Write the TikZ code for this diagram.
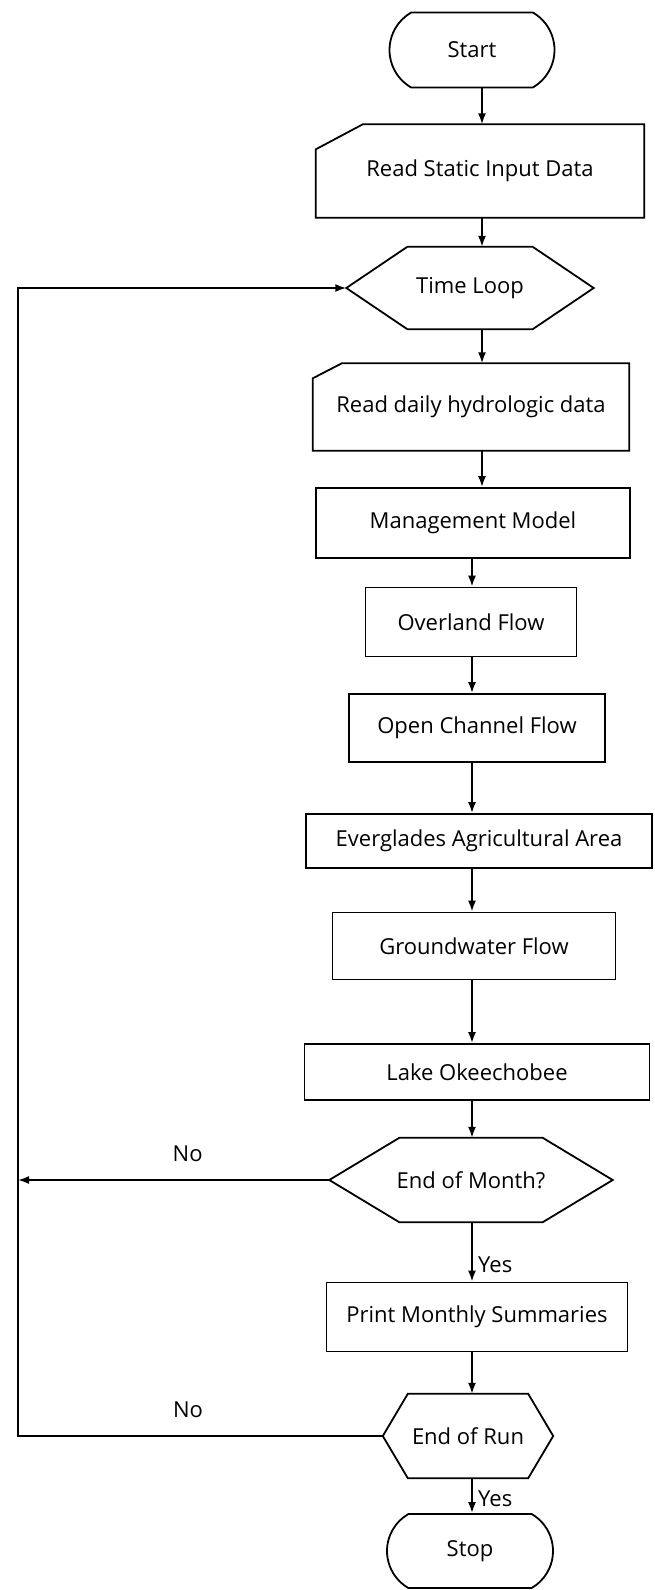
\documentclass[tikz,border=0pt]{standalone}
\usepackage{fontspec}
\setmainfont{Open Sans}
\usetikzlibrary{arrows.meta,positioning,shapes.misc,calc}

\newcommand{\flowfont}{\fontsize{22}{26}\selectfont}

\tikzset{
  block/.style={draw, rectangle, line width=1.8pt, inner sep=0pt},
  bare/.style={rectangle, inner sep=0pt},
  term/.style={draw, rounded rectangle, rounded rectangle arc length=120,
    line width=1.8pt, inner sep=0pt},
  flow/.style={-{Latex[length=11pt,width=8pt]}, line width=1.8pt},
  outline/.style={line width=1.8pt, line join=miter},
}

\begin{document}
\begin{tikzpicture}[x=1pt, y=-1pt, every node/.style={font=\flowfont}]
    \useasboundingbox (0,0) rectangle (654,1590);

    % main column, top to bottom
    \node[term, minimum width=165pt, minimum height=75pt] (start) at (472,50) {Start};
    \node[bare, minimum width=328pt, minimum height=93pt] (static) at (480,171) {Read Static Input Data};
    \node[bare, minimum width=247pt, minimum height=82pt] (loop) at (470,288) {Time Loop};
    \node[bare, minimum width=316pt, minimum height=87pt] (daily) at (471,407) {Read daily hydrologic data};
    \node[block, minimum width=314pt, minimum height=70pt] (mgmt) at (473,523) {Management Model};
    \node[block, minimum width=211pt, minimum height=69pt] (overland) at (471,622) {Overland Flow};
    \node[block, minimum width=256pt, minimum height=68pt] (channel) at (477,728) {Open Channel Flow};
    \node[block, minimum width=346pt, minimum height=54pt] (eaa) at (479,841) {Everglades Agricultural Area};
    \node[block, minimum width=283pt, minimum height=67pt] (ground) at (474,946) {Groundwater Flow};
    \node[block, minimum width=345pt, minimum height=56pt] (lake) at (477,1072) {Lake Okeechobee};
    \node[bare, minimum width=283pt, minimum height=84pt] (month) at (471,1180) {End of Month?};
    \node[block, minimum width=301pt, minimum height=69pt] (print) at (477,1317) {Print Monthly Summaries};
    \node[bare, minimum width=170pt, minimum height=84pt] (run) at (468,1436) {End of Run};
    \node[term, minimum width=166pt, minimum height=74pt] (stop) at (470,1551) {Stop};

    % input cards (cut corner top left)
    \foreach \n/\a/\b in {static/47/25, daily/29/15}
      \draw[outline] ($(\n.north west)+(0,\b)$) -- ($(\n.north west)+(\a,0)$)
        -- (\n.north east) -- (\n.south east) -- (\n.south west) -- cycle;

    % decision hexagons
    \foreach \n/\e in {loop/61, month/70, run/25}
      \draw[outline] (\n.west) -- ($(\n.north west)+(\e,0)$) -- ($(\n.north east)+(-\e,0)$)
        -- (\n.east) -- ($(\n.south east)+(-\e,0)$) -- ($(\n.south west)+(\e,0)$) -- cycle;

    % arrows down the column
    \coordinate (up) at (482,0);
    \coordinate (lo) at (472,0);
    \coordinate (back) at (18,0);
    \foreach \a/\b in {start/static, static/loop, loop/daily, daily/mgmt}
      \draw[flow] (\a.south -| up) -- (\b.north -| up);
    \foreach \a/\b in {mgmt/overland, overland/channel, channel/eaa, eaa/ground, ground/lake, lake/month, print/run}
      \draw[flow] (\a.south -| lo) -- (\b.north -| lo);
    \draw[flow] (month.south -| lo) -- node[pos=0.72, right=2pt] {Yes} (print.north -| lo);
    \draw[flow] (run.south -| lo) -- node[pos=0.6, right=2pt] {Yes} (stop.north -| lo);

    % loop back
    \draw[flow] (month.west) -- node[pos=0.455, above=14pt] {No} (month.west -| back);
    \draw[flow] (run.west) -- node[pos=0.534, above=14pt] {No} (run.west -| back)
      -- (loop.west -| back) -- (loop.west);
\end{tikzpicture}
\end{document}
